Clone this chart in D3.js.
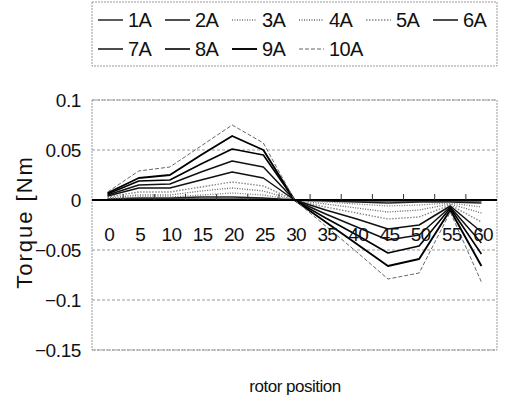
<!DOCTYPE html>
<html>
<head>
<meta charset="utf-8">
<script src="https://cdn.jsdelivr.net/npm/d3@7"></script>
<style>
  body { margin: 0; background: #fff; }
  svg text { font-family: "Liberation Sans", Arial, sans-serif; fill: #111; }
</style>
</head>
<body>
<div id="graph"></div>
<script>
// rotor position categories
const positions = ["0","5","10","15","20","25","30","35","40","45","50","55","60"];
const seriesNames = ["1A","2A","3A","4A","5A","6A","7A","8A","9A","10A"];
const yTicks = [0.1, 0.05, 0, -0.05, -0.1, -0.15];

// torque values [Nm]
const t1A  = [0.000, 0.001, 0.001, 0.001, 0.001, 0.001, 0, 0.000, -0.001, -0.001, -0.001, -0.001, -0.001];
const t2A  = [0.001, 0.002, 0.002, 0.003, 0.003, 0.002, 0, -0.001, -0.002, -0.003, -0.002, -0.002, -0.003];
const t3A  = [0.001, 0.003, 0.003, 0.005, 0.007, 0.005, 0, -0.002, -0.004, -0.006, -0.005, -0.003, -0.007];
const t4A  = [0.002, 0.005, 0.005, 0.009, 0.012, 0.009, 0, -0.004, -0.008, -0.012, -0.010, -0.004, -0.013];
const t5A  = [0.003, 0.008, 0.008, 0.013, 0.018, 0.014, 0, -0.007, -0.013, -0.019, -0.017, -0.005, -0.022];
const t6A  = [0.004, 0.012, 0.012, 0.020, 0.028, 0.022, 0, -0.010, -0.019, -0.029, -0.025, -0.006, -0.032];
const t7A  = [0.005, 0.015, 0.016, 0.028, 0.039, 0.033, 0, -0.014, -0.027, -0.040, -0.035, -0.007, -0.043];
const t8A  = [0.006, 0.019, 0.020, 0.036, 0.051, 0.045, 0, -0.018, -0.035, -0.053, -0.046, -0.008, -0.054];
const t9A  = [0.007, 0.022, 0.025, 0.045, 0.064, 0.050, 0, -0.022, -0.044, -0.066, -0.059, -0.010, -0.066];
const t10A = [0.008, 0.029, 0.033, 0.054, 0.075, 0.057, 0, -0.026, -0.052, -0.079, -0.073, -0.012, -0.082];
const torque = [t1A, t2A, t3A, t4A, t5A, t6A, t7A, t8A, t9A, t10A];

// line look per series (grayscale print style)
const lineStyle = [
  {color:"#333", width:1.6, dash:null},
  {color:"#222", width:1.6, dash:null},
  {color:"#777", width:1.3, dash:"1,1.5"},
  {color:"#666", width:1.3, dash:"1,1.5"},
  {color:"#888", width:1.4, dash:"1.5,1.5"},
  {color:"#111", width:1.5, dash:null},
  {color:"#111", width:1.5, dash:null},
  {color:"#000", width:1.6, dash:null},
  {color:"#000", width:1.9, dash:null},
  {color:"#666", width:1, dash:"4,2"}
];

const W = 505, H = 399;
const plot = {left: 92, right: 497, top: 100, bottom: 350};

const svg = d3.select("#graph").append("svg")
  .attr("width", W).attr("height", H);

const x = d3.scaleBand().domain(positions).range([plot.left, plot.right]);
const y = d3.scaleLinear().domain([-0.15, 0.1]).range([plot.bottom, plot.top]);

// gridlines
svg.append("g").selectAll("line")
  .data(yTicks.filter(d => d !== 0))
  .enter().append("line")
  .attr("x1", plot.left).attr("x2", plot.right)
  .attr("y1", d => y(d)).attr("y2", d => y(d))
  .attr("stroke", "#999").attr("stroke-width", 1)
  .attr("stroke-dasharray", "3,2");

// plot border
svg.append("rect")
  .attr("x", plot.left).attr("y", plot.top)
  .attr("width", plot.right - plot.left).attr("height", plot.bottom - plot.top)
  .attr("fill", "none").attr("stroke", "#999").attr("stroke-dasharray", "2,1");

// y labels
svg.append("g").selectAll("text")
  .data(yTicks)
  .enter().append("text")
  .attr("x", 81).attr("y", d => y(d))
  .attr("dy", "0.36em")
  .attr("text-anchor", "end")
  .style("font-size", "19px")
  .style("letter-spacing", "-0.4px")
  .text(d => d === 0 ? "0" : (d < 0 ? "\u2212" : "") + Math.abs(d));

// series lines
const line = d3.line()
  .x((d, i) => x(positions[i]) + x.bandwidth() / 2)
  .y(d => y(d));

svg.append("g").selectAll("path")
  .data(torque)
  .enter().append("path")
  .attr("d", d => line(d))
  .attr("fill", "none")
  .attr("stroke", (d, i) => lineStyle[i].color)
  .attr("stroke-width", (d, i) => lineStyle[i].width)
  .attr("stroke-dasharray", (d, i) => lineStyle[i].dash)
  .attr("stroke-linejoin", "round");

// zero axis with ticks between categories
svg.append("line")
  .attr("x1", plot.left).attr("x2", plot.right)
  .attr("y1", y(0)).attr("y2", y(0))
  .attr("stroke", "#000").attr("stroke-width", 2);

svg.append("g").selectAll("line")
  .data(positions.slice(1))
  .enter().append("line")
  .attr("x1", d => x(d)).attr("x2", d => x(d))
  .attr("y1", y(0)).attr("y2", y(0) - 6)
  .attr("stroke", "#333").attr("stroke-width", 1);

// x labels (sit just under the zero line)
svg.append("g").selectAll("text")
  .data(positions)
  .enter().append("text")
  .attr("x", d => x(d) + x.bandwidth() / 2 + 1.5)
  .attr("y", y(0) + 41)
  .attr("text-anchor", "middle")
  .style("font-size", "19px")
  .style("letter-spacing", "-0.8px")
  .text(d => d);

// axis titles
svg.append("text")
  .attr("transform", "translate(32,222)rotate(-90)")
  .attr("text-anchor", "middle")
  .style("font-size", "22px")
  .style("letter-spacing", "2px")
  .text("Torque [Nm");

svg.append("text")
  .attr("x", 295).attr("y", 392)
  .attr("text-anchor", "middle")
  .style("font-size", "17px")
  .style("letter-spacing", "-0.5px")
  .text("rotor position");

// legend
const legend = svg.append("g");
legend.append("rect")
  .attr("x", 92).attr("y", 2).attr("width", 405).attr("height", 64)
  .attr("fill", "none").attr("stroke", "#999").attr("stroke-dasharray", "2,1");

const item = legend.selectAll("g.item")
  .data(seriesNames)
  .enter().append("g")
  .attr("class", "item")
  .attr("transform", (d, i) => "translate(" + (98 + (i % 6) * 67) + "," + (20 + Math.floor(i / 6) * 29) + ")");

item.append("line")
  .attr("x1", 0).attr("x2", 25).attr("y1", 0).attr("y2", 0)
  .attr("stroke", (d, i) => lineStyle[i].color)
  .attr("stroke-width", (d, i) => lineStyle[i].width)
  .attr("stroke-dasharray", (d, i) => lineStyle[i].dash);

item.append("text")
  .attr("x", 30).attr("y", 0).attr("dy", "0.36em")
  .style("font-size", "20px")
  .style("letter-spacing", "-0.6px")
  .text(d => d);
</script>
</body>
</html>
